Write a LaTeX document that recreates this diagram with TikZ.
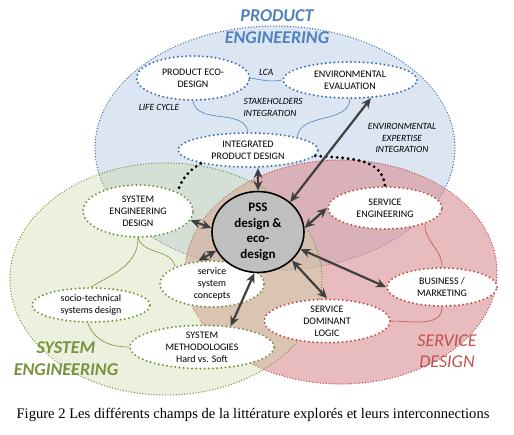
\documentclass[tikz,border=0pt]{standalone}
\usepackage{fontspec}
\setmainfont{Carlito}
\newfontfamily\capfont{Liberation Serif}
\usepackage{tikz}
\usetikzlibrary{shapes.geometric,arrows.meta}
\definecolor{pblue}{RGB}{65,110,175}
\definecolor{pbluetxt}{RGB}{79,129,189}
\definecolor{pbluefill}{RGB}{220,230,242}
\definecolor{sgreen}{RGB}{119,147,60}
\definecolor{sgreenfill}{RGB}{198,215,161}
\definecolor{sred}{RGB}{192,80,77}
\definecolor{sredfill}{RGB}{217,143,147}
\definecolor{arrowgray}{RGB}{64,64,64}

\begin{document}
\begin{tikzpicture}[x=1pt,y=-1pt,>={Stealth[length=10pt,width=9pt]},
  fieldnode/.style={ellipse,fill=white,line width=2.2pt,dash pattern=on 0pt off 4.2pt,line cap=round,inner sep=0pt,align=center,font=\fontsize{10}{12}\selectfont},
  zoneline/.style={line width=1.4pt,dash pattern=on 0pt off 2.8pt,line cap=round},
  thinlink/.style={line width=0.6pt},
  tagtext/.style={font=\itshape\fontsize{9.5}{11.5}\selectfont,align=center},
  bigtitle/.style={font=\bfseries\itshape\fontsize{18}{22}\selectfont,align=center},
  twoway/.style={<->,draw=arrowgray,line width=2.2pt},
  blackdots/.style={line width=3.2pt,dash pattern=on 0pt off 5.5pt,line cap=round}]
\useasboundingbox (0,0) rectangle (514,434);

\draw[zoneline,draw=pblue,fill=pbluefill] (275,148) ellipse [x radius=180, y radius=122];
\draw[zoneline,draw=sred,fill=sredfill,fill opacity=0.6] (341,272) ellipse [x radius=156, y radius=112];
\draw[zoneline,draw=sgreen,fill=sgreenfill,fill opacity=0.35] (166,279) ellipse [x radius=156, y radius=116];

\node[bigtitle,text=pbluetxt] (pe) at (277,27) {PRODUCT\\ENGINEERING};
\node[bigtitle,text=sgreen] (sys) at (66,359) {SYSTEM\\ENGINEERING};
\node[bigtitle,font=\itshape\fontsize{18}{21}\selectfont,text=sred] (sd) at (447,351) {SERVICE\\DESIGN};

\node[fieldnode,draw=pblue,minimum width=113,minimum height=44] (ped) at (193,78) {PRODUCT ECO-\\DESIGN};
\node[fieldnode,draw=pblue,minimum width=134,minimum height=36] (ee) at (350,80) {ENVIRONMENTAL\\EVALUATION};
\node[fieldnode,draw=pblue,minimum width=140,minimum height=34] (ipd) at (248,150) {INTEGRATED\\PRODUCT DESIGN};
\node[fieldnode,draw=sgreen,minimum width=110,minimum height=52] (sed) at (138,211) {SYSTEM\\ENGINEERING\\DESIGN};
\node[fieldnode,draw=sgreen,minimum width=104,minimum height=42] (ssc) at (212,284) {service\\system\\concepts};
\node[fieldnode,draw=sgreen,minimum width=118,minimum height=34] (stsd) at (91,305) {socio-technical\\systems design};
\node[fieldnode,draw=sgreen,minimum width=144,minimum height=42] (sm) at (202,347) {SYSTEM\\METHODOLOGIES\\Hard vs. Soft};
\node[fieldnode,draw=sred,minimum width=114,minimum height=42] (se) at (385,208) {SERVICE\\ENGINEERING};
\node[fieldnode,draw=sred,minimum width=110,minimum height=38] (bm) at (442,287) {BUSINESS /\\MARKETING};
\node[fieldnode,draw=sred,minimum width=126,minimum height=42] (sdl) at (327,321) {SERVICE\\DOMINANT\\LOGIC};
\node[ellipse,draw,line width=1.6pt,fill=black!25,minimum width=92,minimum height=70,inner sep=0pt,align=center,font=\bfseries\fontsize{13}{15.5}\selectfont] (pss) at (258,232) {PSS\\design \&\\eco-\\design};

\draw[thinlink,pbluetxt] (ped.east) to[out=-10,in=190] node[tagtext,text=black,above=1pt] (lca) {LCA} (ee.west);
\draw[thinlink,pbluetxt] (ped.south) to[out=-80,in=100] (ipd.north);
\draw[thinlink,pbluetxt] (ee.south) to[out=-95,in=80] (ipd.15);
\node[tagtext] (lc) at (159,107) {LIFE CYCLE};
\node[tagtext,anchor=west,align=left] (si) at (240,107.5) {STAKEHOLDERS\\INTEGRATION};
\node[tagtext] (eei) at (402,138) {ENVIRONMENTAL\\EXPERTISE\\INTEGRATION};

\draw[thinlink,sgreen] (sed.south) to[out=-90,in=30] (stsd.north);
\draw[thinlink,sgreen] (sed.south) to[out=-70,in=100] (ssc.155);
\draw[thinlink,sgreen] (stsd.-100) to[out=-70,in=180] (sm.west);
\draw[thinlink,sred] (se.-22) to[out=-90,in=90] (bm.north);
\draw[thinlink,sred] (bm.south) to[out=-90,in=0] (sdl.east);

\draw[blackdots] (ipd.196) to[out=210,in=70] (sed.26);
\draw[blackdots] (ipd.-5) to[out=-5,in=95] (se.north);

\draw[twoway] (pss.north) -- (pss.north |- ipd.south);
\draw[twoway] (pss.175) -- (sed.-10);
\draw[twoway] (pss.204) -- (ssc.120);
\draw[twoway] (pss.5) -- (se.west);
\draw[twoway] (pss.-22) -- (bm.west);
\draw[twoway] (pss.-40) -- (sdl.north);
\draw[twoway] (pss.-95) -- (sm.36);
\draw[twoway] (pss.43) -- (ee.-41);

\node[font=\capfont\fontsize{14.6}{17}\selectfont] (cap) at (253,415) {Figure 2 Les différents champs de la littérature explorés et leurs interconnections};
\end{tikzpicture}
\end{document}
